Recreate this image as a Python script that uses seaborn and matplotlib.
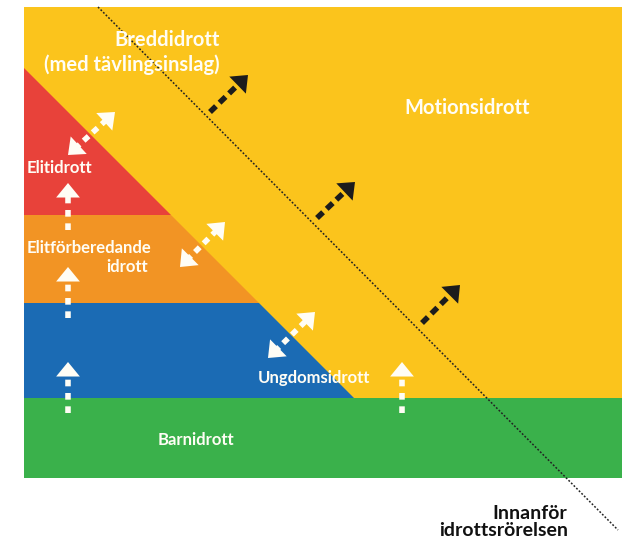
import numpy as np
import pandas as pd
import matplotlib
matplotlib.use("Agg")
import matplotlib.pyplot as plt
import seaborn as sns

# Diagram geometry in pixel units (y grows downwards)
frame_left, frame_right, frame_top = 24, 622, 7
diag_start = (24, 68)            # where the slanted edge leaves the left side
band_names = ["Elitidrott", "Elitförberedande\nidrott", "Ungdomsidrott", "Barnidrott"]
band_tops = [68, 215, 303, 398]
band_bottoms = [215, 303, 398, 478]
band_colors = ["#e8423a", "#f29424", "#1b6bb4", "#3ab14b"]
yellow = "#fbc41c"

# Dotted boundary line "Innanför idrottsrörelsen"
border_x = [98, 618]
border_y = [7, 530]

# White dotted upward arrows (x, tail y, tip y)
up_x = [68, 68, 68, 402]
up_tail = [230, 318, 413, 413]
up_tip = [183, 267, 362, 362]

# White double-headed diagonal arrows
dbl_start = [(68, 155), (180, 267), (268, 358)]
dbl_end = [(115, 112), (225, 222), (315, 312)]

# Black dashed arrows pointing out of the movement
out_start = [(210, 112), (317, 218), (422, 323)]
out_end = [(248, 75), (355, 182), (460, 285)]

sns.set_theme(style="white")
plt.rcParams["font.family"] = ["Lato", "DejaVu Sans"]

fig = plt.figure(figsize=(6.22, 5.39), dpi=100)
ax = fig.add_axes([0, 0, 1, 1])
ax.set_xlim(0, 622)
ax.set_ylim(539, 0)
ax.axis("off")

# yellow background (Motionsidrott / Breddidrott)
ax.fill([frame_left, frame_right, frame_right, frame_left],
        [frame_top, frame_top, band_bottoms[-1], band_bottoms[-1]], color=yellow, lw=0)

def diag_x(y):
    return diag_start[0] + (y - diag_start[1])

for i, (top, bot, c) in enumerate(zip(band_tops, band_bottoms, band_colors)):
    if i == len(band_tops) - 1:
        xs = [frame_left, frame_right, frame_right, frame_left]
    else:
        xs = [frame_left, diag_x(top), diag_x(bot), frame_left]
    ax.fill(xs, [top, top, bot, bot], color=c, lw=0)

# dotted border line
border = pd.DataFrame({"x": border_x, "y": border_y})
sns.lineplot(data=border, x="x", y="y", ax=ax, color="#222222", lw=1.1,
             linestyle=(0, (1.2, 1.2)), sort=False)

def head(tip, tail, color, size=19):
    ax.annotate("", xy=tip, xytext=tail,
                arrowprops=dict(arrowstyle="-|>,head_length=0.55,head_width=0.45",
                                color=color, lw=0, mutation_scale=size,
                                shrinkA=0, shrinkB=0))

def shaft(p0, p1, color, dash):
    ax.plot([p0[0], p1[0]], [p0[1], p1[1]], color=color, lw=4,
            linestyle=(0, dash), solid_capstyle="butt", dash_capstyle="butt")

def back(p_from, p_to, d):
    v = np.array(p_to, float) - np.array(p_from, float)
    v /= np.linalg.norm(v)
    return tuple(np.array(p_to, float) - v * d)

white = "#fffdf5"
for x, t0, t1 in zip(up_x, up_tail, up_tip):
    shaft((x, t0), (x, t1 + 9), white, (1.2, 1.2))
    head((x, t1), (x, t1 + 10), white)

for s, e in zip(dbl_start, dbl_end):
    shaft(back(e, s, 9), back(s, e, 9), white, (1.2, 1.0))
    head(e, back(s, e, 10), white)
    head(s, back(e, s, 10), white)

for s, e in zip(out_start, out_end):
    shaft(s, back(s, e, 9), "#1c1c1c", (1.5, 0.9))
    head(e, back(s, e, 10), "#1c1c1c")

# labels
big = dict(color=white, fontweight="bold", fontsize=14.5)
small = dict(big, fontsize=12)
ax.text(220, 40, "Breddidrott", ha="right", va="center", **big)
ax.text(220, 65, "(med tävlingsinslag)", ha="right", va="center", **big)
ax.text(467, 108, "Motionsidrott", ha="center", va="center", **big)
ax.text(27, 168, "Elitidrott", ha="left", va="center", **small)
ax.text(27, 248, "Elitförberedande", ha="left", va="center", **small)
ax.text(148, 267, "idrott", ha="right", va="center", **small)
ax.text(258, 378, "Ungdomsidrott", ha="left", va="center", **small)
ax.text(196, 440, "Barnidrott", ha="center", va="center", **small)
ax.text(567, 519, "Innanför", ha="right", va="baseline", color="#111111",
        fontweight="bold", fontsize=14)
ax.text(568, 536, "idrottsrörelsen", ha="right", va="baseline", color="#111111",
        fontweight="bold", fontsize=14)

fig.savefig("out.png", dpi=100, facecolor="white")
